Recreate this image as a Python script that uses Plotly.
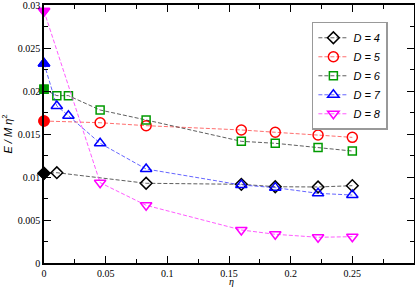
import plotly.graph_objects as go

# Data
eta_4 = [0.0, 0.0104, 0.0828, 0.16, 0.1875, 0.2222, 0.25]
E_4 = [0.01043, 0.0105, 0.00927, 0.00915, 0.00887, 0.00884, 0.00899]

eta_5 = [0.0, 0.0455, 0.0828, 0.16, 0.1875, 0.2222, 0.25]
E_5 = [0.01651, 0.01631, 0.01597, 0.01547, 0.0152, 0.01488, 0.01461]

eta_6 = [0.0, 0.0104, 0.0198, 0.0455, 0.0828, 0.16, 0.1875, 0.2222, 0.25]
E_6 = [0.0202, 0.01946, 0.01946, 0.01779, 0.01663, 0.01415, 0.01392, 0.01343, 0.01302]

eta_7 = [0.0, 0.0104, 0.0198, 0.0455, 0.0828, 0.16, 0.1875, 0.2222, 0.25]
E_7 = [0.0232, 0.01826, 0.01713, 0.01392, 0.01093, 0.00907, 0.00876, 0.0081, 0.0079]

eta_8 = [0.0, 0.0455, 0.0828, 0.16, 0.1875, 0.2222, 0.25]
E_8 = [0.0293, 0.00934, 0.00671, 0.00384, 0.00334, 0.00299, 0.00306]

labels = ["D = 4", "D = 5", "D = 6", "D = 7", "D = 8"]
x_ticks = [0, 0.05, 0.1, 0.15, 0.2, 0.25]
x_ticktext = ["0", "0.05", "0.1", "0.15", "0.2", "0.25"]
y_ticks = [0, 0.005, 0.01, 0.015, 0.02, 0.025, 0.03]
y_ticktext = ["0", "0.005", "0.01", "0.015", "0.02", "0.025", "0.03"]

series = [
    (eta_4, E_4, "diamond", "#000000", "rgba(40,40,40,0.75)", 9),
    (eta_5, E_5, "circle", "#ff0000", "rgba(255,60,60,0.75)", 10),
    (eta_6, E_6, "square", "#009a00", "rgba(40,40,40,0.75)", 8),
    (eta_7, E_7, "triangle-up", "#0000ff", "rgba(50,50,255,0.75)", 10),
    (eta_8, E_8, "triangle-down", "#ff00ff", "rgba(255,50,255,0.8)", 10),
]

fig = go.Figure()
for (xs, ys, sym, col, lcol, sz), lab in zip(series, labels):
    fig.add_trace(go.Scatter(
        x=xs, y=ys, mode="lines+markers", name="<i>" + lab + "</i>",
        line=dict(color=lcol, width=1, dash="4px,2px"),
        marker=dict(symbol=sym + "-open", size=sz, color=col,
                    line=dict(color=col, width=1.5)),
        cliponaxis=False,
    ))
    fig.add_trace(go.Scatter(
        x=xs[:1], y=ys[:1], mode="markers", showlegend=False,
        marker=dict(symbol=sym, size=sz, color=col,
                    line=dict(color=col, width=1.5)),
        cliponaxis=False,
    ))

axis_common = dict(
    showline=True, linecolor="black", linewidth=1.5, mirror="allticks",
    ticks="inside", ticklen=7, tickwidth=1, tickcolor="black",
    showgrid=False, zeroline=False, automargin=False,
    ticklabeloverflow="allow",
    tickfont=dict(family="Liberation Serif", size=10, color="black"),
    minor=dict(ticks="inside", ticklen=4, tickcolor="black", tickwidth=1, showgrid=False),
)

fig.update_xaxes(range=[0, 0.3], tickvals=x_ticks, ticktext=x_ticktext,
                 minor_dtick=0.025, **axis_common)
fig.update_yaxes(range=[0, 0.03], tickvals=y_ticks, ticktext=y_ticktext,
                 minor_dtick=0.0025,
                 title=dict(text="<i>E / M η</i><sup>2</sup>", font=dict(family="Liberation Sans", size=11, color="black"), standoff=3),
                 **axis_common)

fig.add_annotation(text="<i>η</i>", xref="paper", yref="paper", x=0.506, y=0,
                   xanchor="center", yanchor="middle", yshift=-18.5, showarrow=False,
                   font=dict(family="Liberation Serif", size=10, color="black"))

fig.update_layout(
    template="none",
    width=415, height=287,
    margin=dict(l=44, r=1, t=5, b=24),
    paper_bgcolor="white", plot_bgcolor="white",
    showlegend=True,
    legend=dict(x=0.724, y=0.935, xanchor="left", yanchor="top",
                bgcolor="white", bordercolor="#999999", borderwidth=1.5,
                font=dict(family="Liberation Sans", size=11, color="black"),
                itemwidth=30, tracegroupgap=0),
)

fig.write_html("out.html", config={"displayModeBar": False},
               post_script="document.body.style.margin='0';document.body.style.padding='0';")
